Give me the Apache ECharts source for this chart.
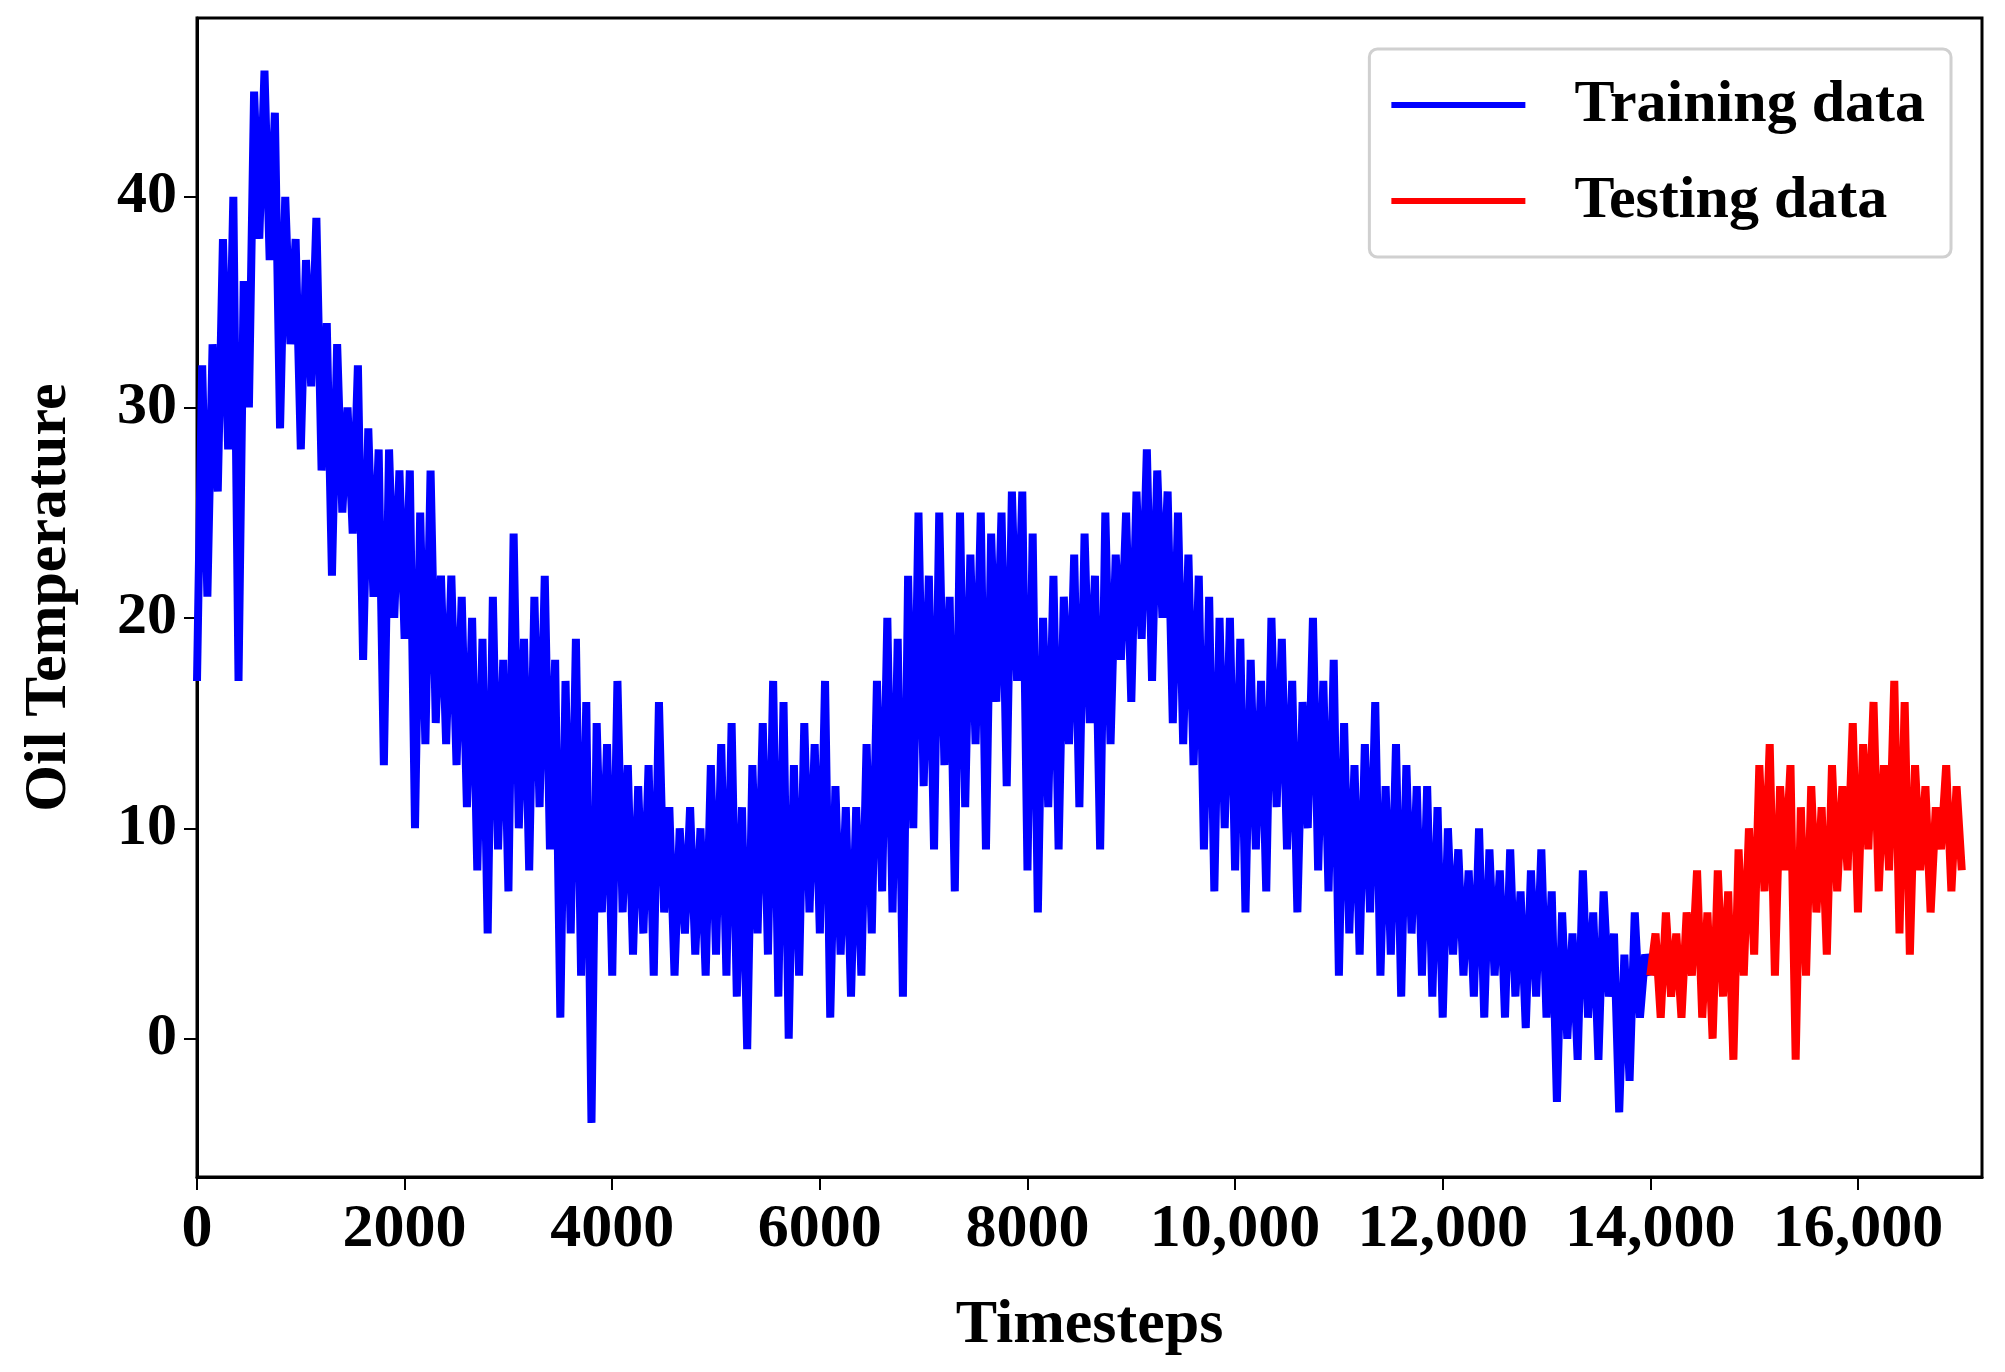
<!DOCTYPE html>
<html><head><meta charset="utf-8">
<script src="https://cdn.jsdelivr.net/npm/echarts@6/dist/echarts.min.js"></script>
<style>html,body{margin:0;padding:0;background:#fff}#c{width:2005px;height:1372px}</style>
</head><body><div id="c"></div>
<script>
const STEP = 50;
const trainStart = 0;
const trainValues = [
17,32,21,33,26,38,28,40,17,36,
30,45,38,46,37,44,29,40,33,38,
28,37,31,39,27,34,22,33,25,30,
24,32,18,29,21,28,13,28,20,27,
19,27,10,25,14,27,15,22,14,22,
13,21,11,20,8,19,5,21,9,18,
7,24,10,19,8,21,11,22,9,18,
1,17,5,19,3,16,-4,15,6,14,
3,17,6,13,4,12,5,13,3,16,
6,11,3,10,5,11,4,10,3,13,
4,14,3,15,2,11,-0.5,13,5,15,
4,17,2,16,0,13,3,15,6,14,
5,17,1,12,4,11,2,11,3,14,
5,17,7,20,6,19,2,22,10,25,
12,22,9,25,13,21,7,25,11,23,
14,25,9,24,16,25,12,26,17,26,
8,24,6,20,11,22,9,21,14,23,
11,24,15,22,9,25,14,23,18,25,
16,26,19,28,17,27,20,26,15,25,
14,23,13,22,9,21,7,20,10,20,
8,19,6,18,9,17,7,20,11,19,
9,17,6,16,10,20,8,17,7,18,
3,15,5,13,4,14,6,16,3,12,
4,14,2,13,5,12,3,12,2,11,
1,10,4,9,3,8,2,10,1,9,
3,8,1,9,2,7,0.5,8,2,9,
1,7,-3,6,0,5,-1,8,1,6,
-1,7,2,5,-3.5,4,-2,6,1,4,
3];
const testStart = 14000;
const testValues = [
3,5,1,6,2,5,1,6,3,8,
1,6,0,8,2,7,-1,9,3,10,
4,13,7,14,3,12,8,13,-1,11,
3,12,6,11,4,13,7,12,8,15,
6,14,9,16,7,13,8,17,5,16,
4,13,8,12,6,11,9,13,7,12,
8];
const yTicks = [0,10,20,30,40];
const seriesNames = ['Training data','Testing data'];

const toPts = (start, vals) => vals.map((v,i)=>[start+i*STEP, v]);
const F = 'Liberation Serif';
const chart = echarts.init(document.getElementById('c'));
chart.setOption({
  animation:false,
  grid:{left:197,right:23,top:18,bottom:195,show:true,borderColor:'#000',borderWidth:3,backgroundColor:'transparent'},
  legend:{
    right:54,top:49,orient:'vertical',itemWidth:134,itemHeight:6,itemGap:36,
    padding:[26,26,26,22],borderColor:'#d0d0d0',borderWidth:3,borderRadius:8,
    backgroundColor:'#fff',icon:'rect',
    textStyle:{fontFamily:F,fontWeight:'bold',fontSize:60,color:'#000',padding:[0,0,0,44]},
    data:seriesNames
  },
  xAxis:{type:'value',min:0,max:17195,interval:2000,
    name:'Timesteps',nameLocation:'middle',nameGap:118,
    nameTextStyle:{fontFamily:F,fontWeight:'bold',fontSize:62,color:'#000'},
    axisLine:{onZero:false,lineStyle:{color:'#000',width:3}},
    axisTick:{length:13,lineStyle:{color:'#000',width:2}},
    splitLine:{show:false},
    axisLabel:{showMaxLabel:false,fontFamily:F,fontWeight:'bold',fontSize:62,color:'#000',margin:22,
      formatter:v=> v>=10000 ? v.toString().replace(/\B(?=(\d{3})+(?!\d))/g, ',') : String(v)}
  },
  yAxis:{type:'value',min:-6.57,max:48.5,
    name:'Oil Temperature',nameLocation:'middle',nameGap:118,nameRotate:90,
    nameTextStyle:{fontFamily:F,fontWeight:'bold',fontSize:60,color:'#000'},
    axisLine:{show:true,onZero:false,lineStyle:{color:'#000',width:3}},
    axisTick:{show:true,length:13,customValues:yTicks,lineStyle:{color:'#000',width:2}},
    splitLine:{show:false},
    axisLabel:{customValues:yTicks,fontFamily:F,fontWeight:'bold',fontSize:60,color:'#000',margin:20}
  },
  series:[
    {name:seriesNames[0],type:'line',data:toPts(trainStart,trainValues),symbol:'none',
     lineStyle:{color:'#0000ff',width:8},itemStyle:{color:'#0000ff'}},
    {name:seriesNames[1],type:'line',data:toPts(testStart,testValues),symbol:'none',
     lineStyle:{color:'#ff0000',width:8},itemStyle:{color:'#ff0000'}}
  ]
});
</script></body></html>
